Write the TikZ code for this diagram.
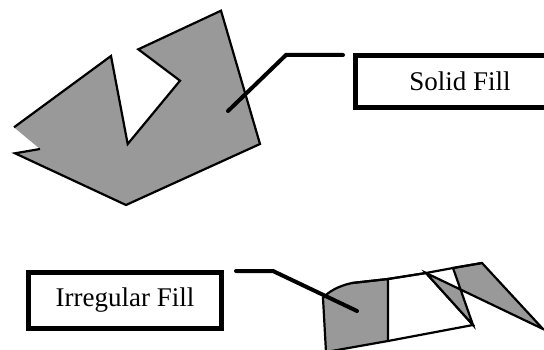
\documentclass[tikz,border=0pt]{standalone}
\usepackage{fontspec}
\setmainfont{Liberation Serif}
\definecolor{fillgray}{RGB}{153,153,153}
\begin{document}
\begin{tikzpicture}[x=1pt,y=-1pt,
  outline/.style={draw=black,line width=2.2pt,line join=miter},
  grayfill/.style={fill=fillgray},
  leader/.style={draw=black,line width=4pt,line cap=round,line join=miter},
  labelbox/.style={draw=black,line width=4.8pt,fill=white,inner sep=0pt,
    font=\fontsize{27}{30}\selectfont}]
\useasboundingbox (0,0) rectangle (544,350);
\clip (0,0) rectangle (544,350);

% ---- top polygon (solid fill)
\fill[grayfill] (14,127.3) -- (111,56) -- (127.7,144) -- (180,80.7) -- (138.3,49.3)
  -- (221,10.7) -- (260,144) -- (126,205) -- (15,153.3) -- (40,149) -- cycle;
\draw[outline] (40,149) -- (15,153.3) -- (126,205) -- (260,144) -- (221,10.7)
  -- (138.3,49.3) -- (180,80.7) -- (127.7,144) -- (111,56) -- (14,127.3);

% ---- bottom shape (irregular fill)
\filldraw[outline,grayfill] (323,298) .. controls (328,292) and (338,286) .. (352,283)
  -- (388,279) -- (388,341) -- (326,352) -- cycle;
\draw[outline] (388,279) -- (426,273) -- (473,325) -- (388,341);
\filldraw[outline,grayfill] (426,273) -- (473,325) -- (453,268) -- (482,263)
  -- (543,329) -- cycle;
\draw[outline] (352,283) -- (388,279) -- (426,273) -- (453,268) -- (482,263);

% ---- label boxes
\node[labelbox,minimum width=209pt,minimum height=52pt] (solid) at (460,81.5) {Solid Fill};
\node[labelbox,minimum width=193pt,minimum height=56pt] (irregular) at (125,300.5) {Irregular Fill};

% ---- leaders
\coordinate (topin) at (228,111);
\coordinate (topbend) at (286,55);
\coordinate (topend) at (343,55);
\draw[leader] (topin) -- (topbend) -- (topend);

\coordinate (botstart) at (236,271);
\coordinate (botbend) at (273,271);
\coordinate (botin) at (357,311);
\draw[leader] (botstart) -- (botbend) -- (botin);
\end{tikzpicture}
\end{document}
